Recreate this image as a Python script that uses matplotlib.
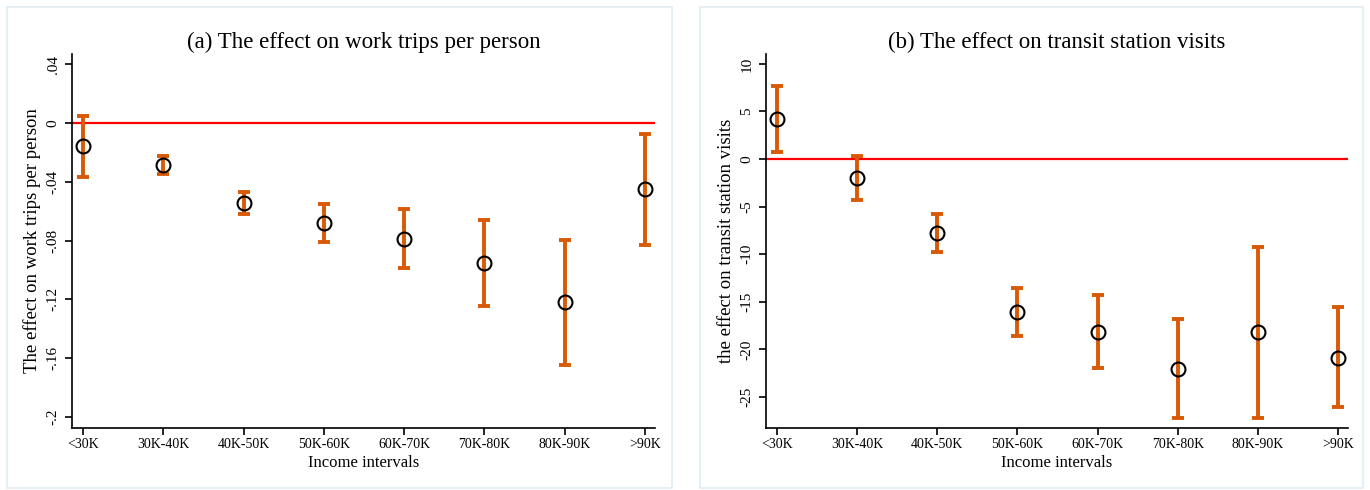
import matplotlib.pyplot as plt
from matplotlib.patches import Rectangle

plt.rcParams['font.family'] = ['Liberation Serif', 'DejaVu Serif']

income = ['<30K', '30K-40K', '40K-50K', '50K-60K', '60K-70K', '70K-80K', '80K-90K', '>90K']

# (a) work trips per person: point estimate and 95% CI bounds
trips_est = [-0.0158, -0.0285, -0.0543, -0.0681, -0.0786, -0.0953, -0.1220, -0.0450]
trips_hi = [0.0048, -0.0222, -0.0471, -0.0548, -0.0582, -0.0659, -0.0795, -0.0072]
trips_lo = [-0.0367, -0.0349, -0.0616, -0.0810, -0.0989, -0.1245, -0.1646, -0.0831]

# (b) transit station visits
transit_est = [4.24, -2.0, -7.78, -16.09, -18.13, -22.02, -18.23, -20.86]
transit_hi = [7.71, 0.32, -5.75, -13.57, -14.31, -16.80, -9.29, -15.57]
transit_lo = [0.74, -4.31, -9.78, -18.58, -21.95, -27.17, -27.17, -26.09]

trips_ticks = [0.04, 0, -0.04, -0.08, -0.12, -0.16, -0.2]
trips_ticklabels = ['.04', '0', '-.04', '-.08', '-.12', '-.16', '-.2']
transit_ticks = [10, 5, 0, -5, -10, -15, -20, -25]

orange = '#d85a06'

fig = plt.figure(figsize=(13.7, 4.9), dpi=100)

# light frames around each panel
for x0, w in [(7 / 1370, 665 / 1370), (700 / 1370, 663 / 1370)]:
    fig.patches.append(Rectangle((x0, 2 / 490), w, 481 / 490, transform=fig.transFigure,
                                 fill=False, edgecolor='#e2ecf1', linewidth=1.2))

ax1 = fig.add_axes([72 / 1370, 62 / 490, 583 / 1370, 374 / 490])
ax2 = fig.add_axes([766 / 1370, 62 / 490, 582 / 1370, 374 / 490])


def draw_panel(ax, est, lo, hi, ylim, ticks, ticklabels, ylabel, title):
    x = list(range(1, len(income) + 1))
    yerr = [[e - l for e, l in zip(est, lo)], [h - e for e, h in zip(est, hi)]]
    ax.axhline(0, color='red', linewidth=1.6, zorder=1)
    ax.errorbar(x, est, yerr=yerr, fmt='none', ecolor=orange, elinewidth=2.8,
                capsize=4.5, capthick=2.8, zorder=2)
    ax.plot(x, est, 'o', markersize=10, markerfacecolor='none',
            markeredgecolor='black', markeredgewidth=1.5, zorder=3)
    ax.set_xlim(0.863, 8.125)
    ax.set_ylim(*ylim)
    ax.set_xticks(x)
    ax.set_xticklabels(income, fontsize=10)
    ax.set_yticks(ticks)
    ax.set_yticklabels(ticklabels, fontsize=11, rotation=90, va='center')
    ax.spines['top'].set_visible(False)
    ax.spines['right'].set_visible(False)
    for s in ['left', 'bottom']:
        ax.spines[s].set_linewidth(1.2)
    ax.tick_params(direction='out', length=5, width=1.2, pad=4)
    ax.tick_params(axis='x', pad=2)
    ax.set_xlabel('Income intervals', fontsize=12, labelpad=3)
    ax.set_ylabel(ylabel, fontsize=13.5, labelpad=4)
    ax.set_title(title, fontsize=16.5, pad=4)


draw_panel(ax1, trips_est, trips_lo, trips_hi, (-0.2075, 0.047), trips_ticks,
           trips_ticklabels, 'The effect on work trips per person',
           '(a) The effect on work trips per person')
draw_panel(ax2, transit_est, transit_lo, transit_hi, (-28.27, 11.04), transit_ticks,
           [str(t) for t in transit_ticks], 'the effect on transit station visits',
           '(b) The effect on transit station visits')

fig.savefig('out.png', dpi=100)
